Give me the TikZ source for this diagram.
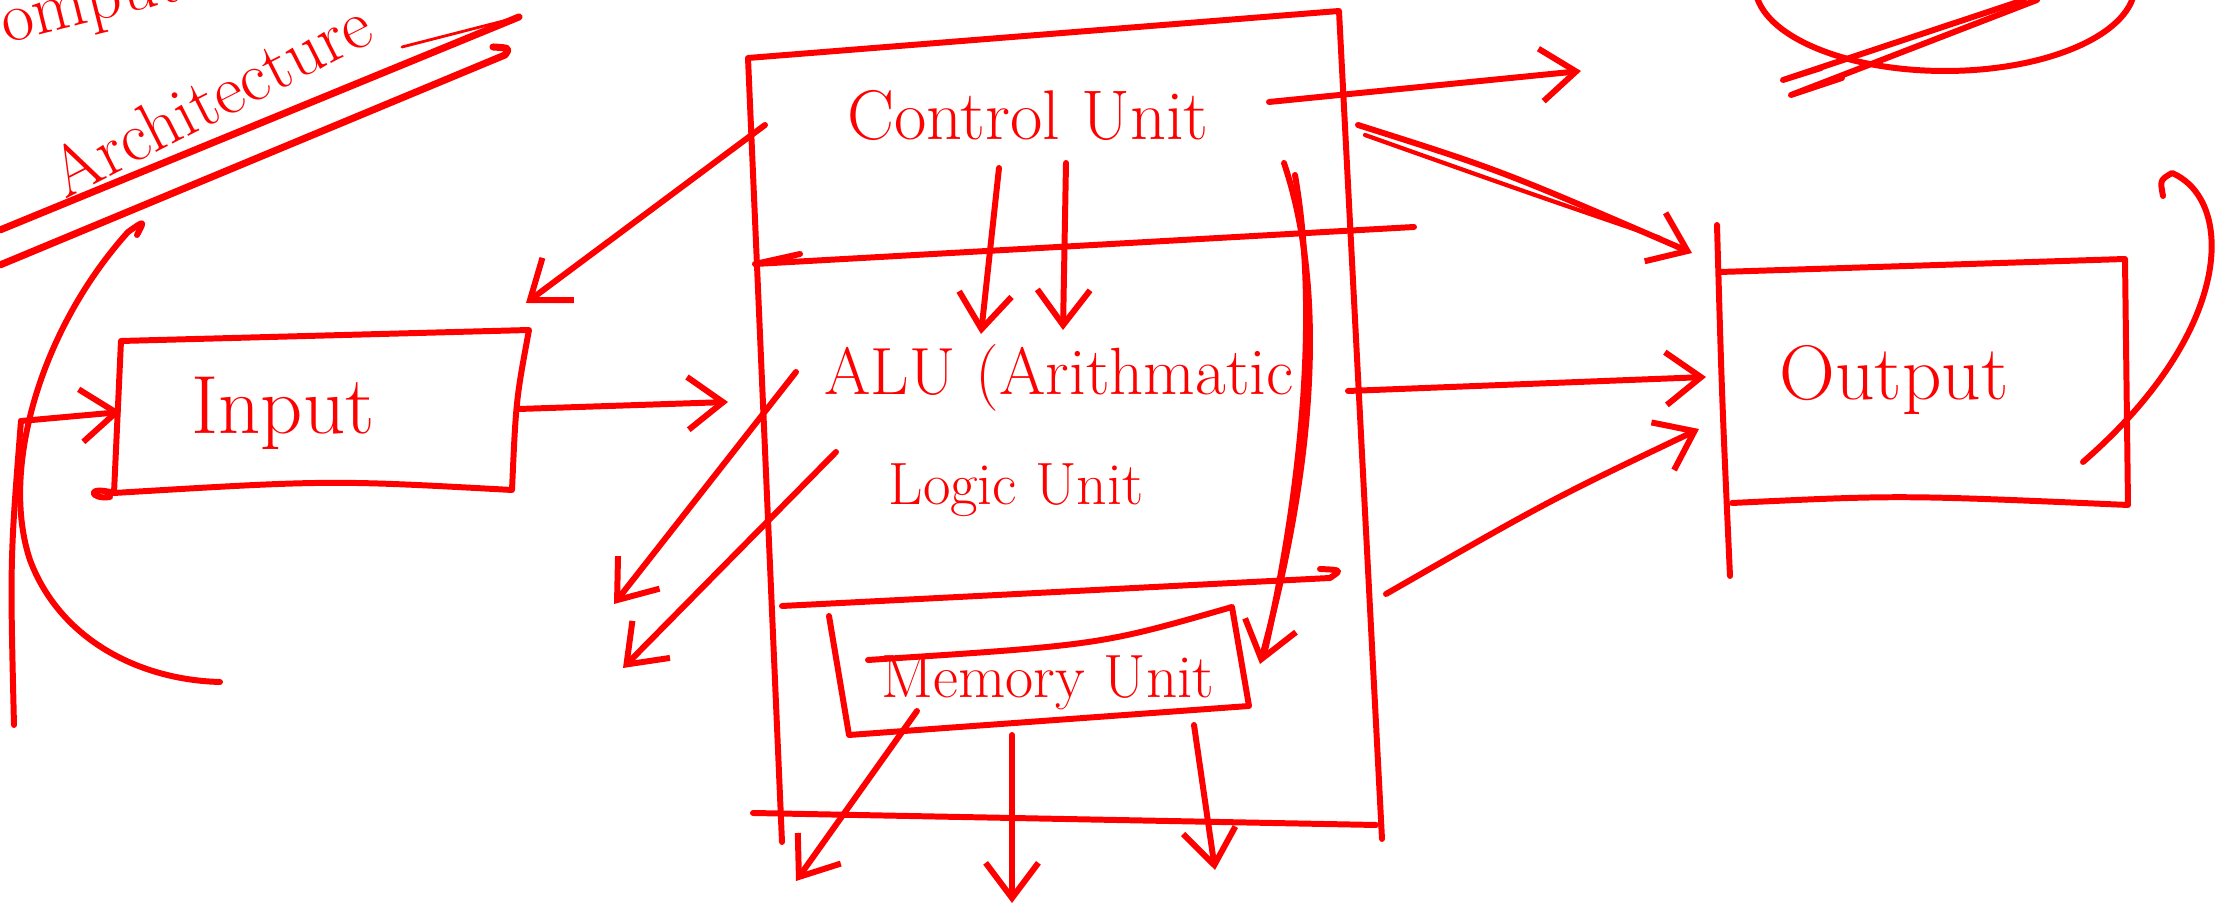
\documentclass[tikz,border=0pt]{standalone}
\definecolor{inkred}{RGB}{255,0,0}
\usepackage{tikz}
\usetikzlibrary{arrows.meta}

\begin{document}
\begin{tikzpicture}[x=0.01cm,y=-0.01cm,
    pen/.style={inkred,line width=1.7pt,line cap=round,line join=round},
    arr/.style={pen,-{Straight Barb[length=10pt,width=15pt]}},
    lbl/.style={inkred,inner sep=0pt,font=\fontsize{#1}{#1}\selectfont}]
        \useasboundingbox (0,0) rectangle (2229,916);
        \clip (0,0) rectangle (2229,916);
        \node[lbl=20,rotate=14,anchor=base west] (comp) at (-40,55) {Computer};
        \node[lbl=20,rotate=27] (arch) at (210,98) {Architecture};
        \node[lbl=20] (cu) at (1028,115) {Control Unit};
        \node[lbl=19] (alu) at (1059,378) {ALU (Arithmatic};
        \node[lbl=17] (logic) at (1016,490) {Logic Unit};
        \node[lbl=17.4] (mem) at (1048,683) {Memory Unit};
        \node[lbl=23.5] (in) at (283,413) {Input};
        \node[lbl=22] (out) at (1894,380) {Output};
        \coordinate (cpuTL) at (748,58); \coordinate (cpuTR) at (1339,11);
        \coordinate (cpuBR) at (1382,839); \coordinate (cpuBL) at (782,842);
        \coordinate (d1L) at (755,264); \coordinate (d1R) at (1414,227);
        \coordinate (d2L) at (782,606); \coordinate (d2R) at (1330,578);
        \coordinate (botL) at (753,813); \coordinate (botR) at (1376,825);
        \coordinate (memTL) at (829,616); \coordinate (memBL) at (849,735);
        \coordinate (memBR) at (1249,706); \coordinate (memTR) at (1232,607);
        \coordinate (memTop) at (868,660);
        \coordinate (inTL) at (121,341); \coordinate (inTR) at (529,330);
        \coordinate (inBR) at (512,490); \coordinate (inBL) at (114,493);
        \coordinate (outTL) at (1720,272); \coordinate (outTR) at (2125,259);
        \coordinate (outBR) at (2128,505); \coordinate (outBL) at (1732,503);
        \coordinate (outLT) at (1717,225); \coordinate (outLB) at (1730,576);
        \draw[pen] (cpuBL) .. controls (765,450) .. (cpuTL) -- (cpuTR) -- (cpuBR);
        \draw[pen] (800,254) -- (d1L) -- (d1R);
        \draw[pen] (d2L) -- (d2R) .. controls (1342,570) .. (1320,569);
        \draw[pen] (botL) -- (botR);
        \draw[pen] (memTL) -- (memBL) -- (memBR) -- (memTR) .. controls (1100,645) .. (memTop);
        \draw[pen] (inBL) -- (inTL) -- (inTR) .. controls (516,400) .. (inBR) .. controls (330,480) .. (inBL) .. controls (85,485) and (90,500) .. (110,497);
        \draw[pen] (outTL) -- (outTR) -- (outBR) .. controls (1900,495) .. (outBL);
        \draw[pen] (outLT) .. controls (1722,400) .. (outLB);
        \coordinate (cuW) at (765,125); \coordinate (inNE) at (526,303);
        \coordinate (inE) at (519,409); \coordinate (aluW) at (728,402);
        \coordinate (srcIn) at (21,421); \coordinate (inW) at (121,412);
        \coordinate (cuS1) at (999,168); \coordinate (aluN1) at (981,334);
        \coordinate (cuS2) at (1066,163); \coordinate (aluN2) at (1063,330);
        \coordinate (aluL1) at (796,372); \coordinate (sink1) at (614,604);
        \coordinate (aluL2) at (836,452); \coordinate (sink2) at (623,668);
        \coordinate (cuE) at (1269,102); \coordinate (sinkTR) at (1581,71);
        \coordinate (cuE2) at (1358,125); \coordinate (outNW) at (1692,253);
        \coordinate (aluE) at (1348,391); \coordinate (outW) at (1706,377);
        \coordinate (memE) at (1386,594); \coordinate (outSW) at (1699,429);
        \coordinate (cuSE) at (1284,163); \coordinate (memNE) at (1260,664);
        \coordinate (memS1) at (917,711); \coordinate (sinkM1) at (796,881);
        \coordinate (memS2) at (1012,735); \coordinate (sinkM2) at (1012,903);
        \coordinate (memS3) at (1194,725); \coordinate (sinkM3) at (1215,870);
        \draw[arr] (cuW) -- (inNE);
        \draw[arr] (inE) -- (aluW);
        \draw[arr] (srcIn) -- (inW);
        \draw[arr] (cuS1) -- (aluN1);
        \draw[arr] (cuS2) -- (aluN2);
        \draw[arr] (aluL1) -- (sink1);
        \draw[arr] (aluL2) -- (sink2);
        \draw[arr] (cuE) -- (sinkTR);
        \draw[arr] (cuE2) .. controls (1500,170) .. (outNW);
        \draw[pen,line width=1.2pt] (1365,135) .. controls (1520,190) .. (1660,238);
        \draw[arr] (aluE) -- (outW);
        \draw[arr] (memE) .. controls (1550,500) .. (outSW);
        \draw[arr] (cuSE) .. controls (1330,300) and (1310,480) .. (memNE);
        \draw[pen] (1295,175) .. controls (1322,330) and (1295,520) .. (1264,655);
        \draw[arr] (memS1) -- (sinkM1);
        \draw[arr] (memS2) -- (sinkM2);
        \draw[arr] (memS3) -- (sinkM3);
        \draw[pen] (137,235) .. controls (145,220) .. (128,232) .. controls (40,330) and (0,470) .. (30,560) .. controls (60,640) and (140,680) .. (220,682);
        \draw[pen] (srcIn) .. controls (10,560) .. (14,725);
        \draw[pen] (2163,196) .. controls (2160,180) .. (2172,173) .. controls (2235,200) and (2235,330) .. (2083,462);
        \draw[pen] (1945,-15) ellipse [x radius=190, y radius=86];
        \draw[pen] (2024,0) -- (1783,80) -- (1821,68);
        \draw[pen] (2037,0) -- (1791,95) -- (1842,78);
        \draw[pen,line width=2pt] (0,230) -- (519,17);
        \draw[pen,line width=0.8pt] (519,17) -- (402,47);
        \draw[pen,line width=2pt] (0,265) -- (505,55) .. controls (510,48) .. (493,47);
      \end{tikzpicture}
\end{document}
